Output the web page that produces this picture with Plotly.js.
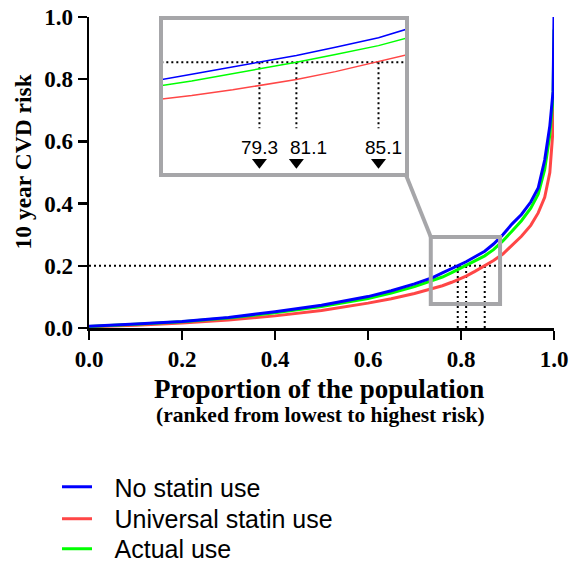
<!DOCTYPE html>
<html><head><meta charset="utf-8">
<script src="https://cdn.plot.ly/plotly-3.0.1.min.js"></script>
<style>html,body{margin:0;padding:0;background:#fff}</style>
</head><body><div id="chart" style="width:571px;height:565px"></div>
<script>
// ---- data ----
const proportion = [0,0.05,0.1,0.2,0.3,0.4,0.5,0.6,0.65,0.7,0.74,0.76,0.78,0.793,0.811,0.83,0.851,0.87,0.89,0.91,0.93,0.95,0.966,0.98,0.991,0.998,1.0];
const riskNoStatin = [0.006,0.009,0.013,0.021,0.034,0.052,0.073,0.101,0.12,0.142,0.163,0.177,0.191,0.200,0.213,0.229,0.247,0.270,0.300,0.335,0.365,0.405,0.45,0.54,0.65,0.76,1.0];
const riskUniversal = [0.004,0.006,0.009,0.016,0.026,0.039,0.056,0.080,0.094,0.111,0.127,0.136,0.147,0.155,0.167,0.182,0.200,0.217,0.238,0.265,0.295,0.33,0.37,0.42,0.50,0.64,0.90];
const riskActual = [0.005,0.008,0.012,0.020,0.032,0.049,0.069,0.095,0.112,0.133,0.152,0.164,0.178,0.188,0.200,0.215,0.232,0.252,0.280,0.312,0.345,0.385,0.43,0.51,0.62,0.74,0.96];
const seriesNames = ['No statin use','Universal statin use','Actual use'];
const threshold = 0.2;
const crossings = [0.793, 0.811, 0.851];
const crossingLabels = ['79.3','81.1','85.1'];
const tickVals = [0,0.2,0.4,0.6,0.8,1.0];
const tickText = ['0.0','0.2','0.4','0.6','0.8','1.0'];

// ---- styling ----
const BLUE = '#0000ff', RED = '#ff4646', GREEN = '#00ff00', GREY = '#a6a6a9';
const serifBold = (s) => ({family:'Liberation Serif, Times New Roman, serif', size:s, color:'#000', weight:'bold'});
const sans = (s) => ({family:'Liberation Sans, Arial, sans-serif', size:s, color:'#000'});
const dotted = {color:'#000', width:2, dash:'2px,3px'};

const insetX = [0.746, 0.864], insetY = [-0.013, 0.281];
const insetDomX = [0.159, 0.680], insetDomY = [0.498, 0.990];
const zoomBox = {x0:0.735, x1:0.884, y0:0.077, y1:0.293};
const vLineBottomInset = 0.073, labelYInset = 0.036, arrowYInset = 0.008;
const labelShift = [0, 12, 5];

function vlines(xs, y0, y1){
  const X=[],Y=[];
  xs.forEach(c=>{X.push(c,c,null);Y.push(y0,y1,null);});
  return {x:X,y:Y};
}

const pad = '\u2002\u2009';
const traces = [];
// main dotted guides
traces.push({x:[0,1], y:[threshold,threshold], mode:'lines', line:dotted, showlegend:false, hoverinfo:'skip'});
const mv = vlines(crossings, 0, threshold);
traces.push({x:mv.x, y:mv.y, mode:'lines', line:dotted, showlegend:false, hoverinfo:'skip'});
// main curves (red, green, blue drawn in that order); each in its own legend box
traces.push({x:proportion, y:riskUniversal, name:pad+seriesNames[1], mode:'lines', line:{color:RED,width:3}, legend:'legend2'});
traces.push({x:proportion, y:riskActual, name:pad+seriesNames[2], mode:'lines', line:{color:GREEN,width:3}, legend:'legend3'});
traces.push({x:proportion, y:riskNoStatin, name:pad+seriesNames[0], mode:'lines', line:{color:BLUE,width:3}, legend:'legend'});
// inset
traces.push({x:[0,1], y:[threshold,threshold], xaxis:'x2', yaxis:'y2', mode:'lines', line:dotted, showlegend:false, hoverinfo:'skip'});
const iv = vlines(crossings, threshold, vLineBottomInset);
traces.push({x:iv.x, y:iv.y, xaxis:'x2', yaxis:'y2', mode:'lines', line:dotted, showlegend:false, hoverinfo:'skip'});
traces.push({x:proportion, y:riskUniversal, xaxis:'x2', yaxis:'y2', mode:'lines', line:{color:RED,width:1.5}, showlegend:false});
traces.push({x:proportion, y:riskActual, xaxis:'x2', yaxis:'y2', mode:'lines', line:{color:GREEN,width:1.5}, showlegend:false});
traces.push({x:proportion, y:riskNoStatin, xaxis:'x2', yaxis:'y2', mode:'lines', line:{color:BLUE,width:1.5}, showlegend:false});
traces.push({x:crossings, y:crossings.map(()=>arrowYInset), xaxis:'x2', yaxis:'y2', mode:'markers', marker:{symbol:'triangle-down', size:13, color:'#000'}, showlegend:false, hoverinfo:'skip'});

const mainAxis = {
  range:[0,1], tickvals:tickVals, ticktext:tickText, ticks:'outside', ticklen:9, tickwidth:2.5,
  tickcolor:'#000', showline:true, linewidth:2.5, linecolor:'#000', showgrid:false, zeroline:false,
  tickfont:serifBold(23), fixedrange:true
};
const insetAxis = (dom, rng, anchor) => ({
  domain:dom, range:rng, anchor:anchor, showline:true, mirror:true, linecolor:GREY, linewidth:4,
  ticks:'', showticklabels:false, showgrid:false, zeroline:false, fixedrange:true
});
const legendBox = (y) => ({x:-0.0688, y:y, xanchor:'left', yanchor:'middle', font:sans(25), bgcolor:'rgba(0,0,0,0)', borderwidth:0});

const annotations = [
  {text:'10 year CVD risk', xref:'paper', yref:'paper', x:-0.143, y:0.534, textangle:-90, showarrow:false, font:serifBold(23.5), xanchor:'center', yanchor:'middle'},
  {text:'Proportion of the population', xref:'paper', yref:'paper', x:0.495, y:-0.196, showarrow:false, font:serifBold(27), xanchor:'center', yanchor:'middle'},
  {text:'(ranked from lowest to highest risk)', xref:'paper', yref:'paper', x:0.497, y:-0.28, showarrow:false, font:serifBold(21.5), xanchor:'center', yanchor:'middle'}
];
crossings.forEach((c,i)=>annotations.push({text:crossingLabels[i], xref:'x2', yref:'y2', x:c, y:labelYInset, xshift:labelShift[i], showarrow:false, font:sans(19), xanchor:'center', yanchor:'middle'}));

const layout = {
  width:571, height:565,
  margin:{l:89, r:17, t:17, b:237, autoexpand:false},
  paper_bgcolor:'#fff', plot_bgcolor:'#fff',
  xaxis:Object.assign({}, mainAxis),
  yaxis:Object.assign({}, mainAxis),
  xaxis2:insetAxis(insetDomX, insetX, 'y2'),
  yaxis2:insetAxis(insetDomY, insetY, 'x2'),
  showlegend:true,
  legend:legendBox(-0.5113),
  legend2:legendBox(-0.6141),
  legend3:legendBox(-0.7106),
  shapes:[
    {type:'rect', xref:'x', yref:'y', x0:zoomBox.x0, x1:zoomBox.x1, y0:zoomBox.y0, y1:zoomBox.y1, line:{color:GREY, width:4}},
    {type:'line', xref:'paper', yref:'paper', x0:insetDomX[1], y0:insetDomY[0], x1:zoomBox.x0, y1:zoomBox.y1, line:{color:GREY, width:4}}
  ],
  annotations:annotations
};
Plotly.newPlot('chart', traces, layout, {staticPlot:true, displayModeBar:false});
</script></body></html>
